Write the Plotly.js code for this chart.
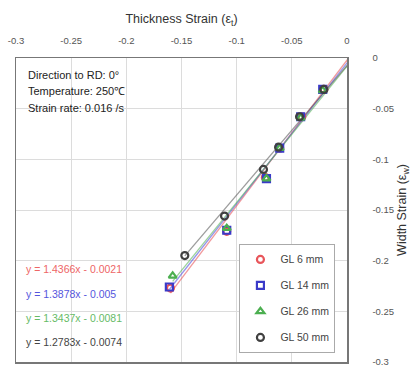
<!DOCTYPE html>
<html><head><meta charset="utf-8">
<script src="https://cdn.plot.ly/plotly-3.0.1.min.js"></script>
<style>html,body{margin:0;padding:0;background:#fff}#chart{width:411px;height:371px}</style>
</head><body><div id="chart"></div>
<script>
// Data (thickness strain x, width strain y)
const seriesNames = ['GL 6 mm', 'GL 14 mm', 'GL 26 mm', 'GL 50 mm'];
const gl6_x  = [-0.021, -0.041, -0.061, -0.074, -0.109, -0.160];
const gl6_y  = [-0.031, -0.058, -0.089, -0.118, -0.171, -0.227];
const gl14_x = [-0.022, -0.042, -0.061, -0.073, -0.109, -0.161];
const gl14_y = [-0.031, -0.058, -0.089, -0.119, -0.170, -0.226];
const gl26_x = [-0.022, -0.042, -0.061, -0.073, -0.109, -0.158];
const gl26_y = [-0.032, -0.059, -0.089, -0.119, -0.168, -0.215];
const gl50_x = [-0.021, -0.043, -0.062, -0.0757, -0.111, -0.147];
const gl50_y = [-0.031, -0.058, -0.088, -0.110, -0.156, -0.195];
const slopes = [1.4366, 1.3878, 1.3437, 1.2783];
const intercepts = [-0.0021, -0.005, -0.0081, -0.0074];
const equations = ['y = 1.4366x - 0.0021', 'y = 1.3878x - 0.005', 'y = 1.3437x - 0.0081', 'y = 1.2783x - 0.0074'];
const infoLines = ['Direction to RD: 0°', 'Temperature: 250℃', 'Strain rate: 0.016 /s'];
const tickVals = [-0.3, -0.25, -0.2, -0.15, -0.1, -0.05, 0];
const tickText = ['-0.3', '-0.25', '-0.2', '-0.15', '-0.1', '-0.05', '0'];

const xs = [gl6_x, gl14_x, gl26_x, gl50_x];
const ys = [gl6_y, gl14_y, gl26_y, gl50_y];
const colors = ['#e8555a', '#3a3ac8', '#4caf50', '#404040'];
const lineColors = ['rgba(232,85,90,0.6)', 'rgba(80,80,220,0.6)', 'rgba(90,180,90,0.6)', 'rgba(90,90,90,0.6)'];
const textColors = ['#ee6666', '#5555dd', '#66bb66', '#444444'];
const symbols = ['circle-open', 'square-open', 'triangle-up-open', 'circle-open'];

const traces = [];
// trend lines
for (let i = 0; i < 4; i++) {
  const xmin = Math.min(...xs[i]);
  const lx = [xmin, 0.003];
  traces.push({
    x: lx, y: lx.map(v => slopes[i] * v + intercepts[i]),
    mode: 'lines', line: {color: lineColors[i], width: 1.3},
    showlegend: false, hoverinfo: 'skip'
  });
}
for (let i = 0; i < 4; i++) {
  traces.push({
    x: xs[i], y: ys[i], name: seriesNames[i], legendgroup: 'g' + i,
    mode: 'markers',
    marker: {symbol: symbols[i], size: 7, color: colors[i], line: {width: 2.2, color: colors[i]}},
    cliponaxis: false
  });
}

const annotations = [];
infoLines.forEach((t, k) => annotations.push({
  text: t, xref: 'paper', yref: 'paper', x: 0.03, y: 0.945 - k * 0.055,
  xanchor: 'left', yanchor: 'middle', showarrow: false,
  font: {family: 'Liberation Sans, Arial, sans-serif', size: 11, color: '#222'}
}));
equations.forEach((t, k) => annotations.push({
  text: t, xref: 'paper', yref: 'paper', x: 0.025, y: 0.305 - k * 0.08,
  xanchor: 'left', yanchor: 'middle', showarrow: false,
  font: {family: 'Liberation Sans, Arial, sans-serif', size: 10.5, color: textColors[k]}
}));

const axisCommon = {
  range: [-0.3, 0], tickvals: tickVals, ticktext: tickText,
  showgrid: true, gridcolor: '#dcdcdc', gridwidth: 1, zeroline: false,
  showline: true, linecolor: '#777', linewidth: 1.5, mirror: true,
  ticks: '', tickfont: {family: 'Liberation Sans, Arial, sans-serif', size: 9.5, color: '#555'}
};

const layout = {
  width: 411, height: 371,
  margin: {l: 16, r: 64, t: 58, b: 9},
  paper_bgcolor: '#fff', plot_bgcolor: '#fff',
  showlegend: true,
  xaxis: Object.assign({}, axisCommon, {
    side: 'top', ticklabelstandoff: 9,
    title: {text: 'Thickness Strain (ε<sub>t</sub>)', standoff: 8,
      font: {family: 'Liberation Sans, Arial, sans-serif', size: 12.5, color: '#333'}}
  }),
  yaxis: Object.assign({}, axisCommon, {
    side: 'right', ticklabelstandoff: 22,
    title: {text: 'Width Strain (ε<sub>w</sub>)', standoff: 8,
      font: {family: 'Liberation Sans, Arial, sans-serif', size: 12.5, color: '#333'}}
  }),
  legend: {
    x: 0.675, y: 0.03, xanchor: 'left', yanchor: 'bottom',
    bgcolor: '#fff', bordercolor: '#aaa', borderwidth: 1,
    tracegroupgap: 7, itemwidth: 30,
    font: {family: 'Liberation Sans, Arial, sans-serif', size: 10.5, color: '#444'}
  },
  annotations: annotations
};

Plotly.newPlot('chart', traces, layout, {displayModeBar: false, staticPlot: true});
</script>
</body></html>
